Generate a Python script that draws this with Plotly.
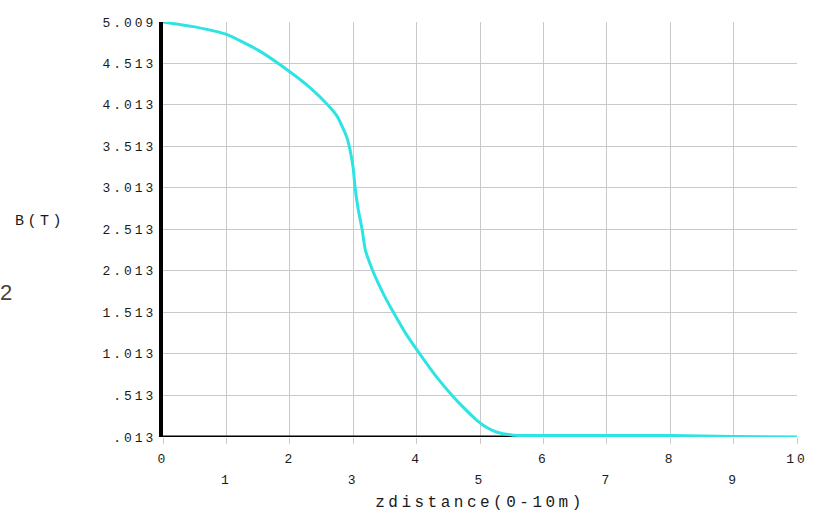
import plotly.graph_objects as go

# Curve B(T) versus z distance
z_vals = [0, 0.5, 1, 1.5, 2, 2.3, 2.6, 2.75, 2.9, 2.95, 3.0, 3.03, 3.08, 3.14, 3.19,
          3.30, 3.38, 3.50, 3.63, 3.82, 4.05, 4.32, 4.56, 4.75, 4.95, 5.1, 5.27, 5.52,
          6, 7, 8, 9, 10]
b_vals = [5.009, 4.95, 4.86, 4.67, 4.41, 4.23, 4.01, 3.87, 3.62, 3.47, 3.25, 3.013,
          2.75, 2.513, 2.27, 2.03, 1.89, 1.70, 1.52, 1.27, 1.013, 0.73, 0.513, 0.36,
          0.214, 0.13, 0.07, 0.035, 0.032, 0.032, 0.03, 0.018, 0.013]

# Black baseline segment drawn by the plotting program (0 to 8 m)
base_x = [0, 8]
base_y = [0.013, 0.013]

y_tickvals = [0.013, 0.513, 1.013, 1.513, 2.013, 2.513, 3.013, 3.513, 4.013, 4.513, 5.009]
y_ticktext = [".013", ".513", "1.013", "1.513", "2.013", "2.513", "3.013", "3.513",
              "4.013", "4.513", "5.009"]
x_even = [0, 2, 4, 6, 8, 10]
x_odd = [1, 3, 5, 7, 9]

MONO = "Liberation Mono, Courier New, monospace"
LS = "letter-spacing:3px"


def sp(t, ls=LS):
    return f'<span style="{ls}">{t}</span>'


fig = go.Figure()
fig.add_trace(go.Scatter(x=base_x, y=base_y, mode="lines",
                         line=dict(color="black", width=3), hoverinfo="skip",
                         showlegend=False))
fig.add_trace(go.Scatter(x=z_vals, y=b_vals, mode="lines",
                         line=dict(color="#2ee3e3", width=3, shape="spline", smoothing=0.5),
                         showlegend=False))
# invisible trace for secondary x axis (odd tick labels row)
fig.add_trace(go.Scatter(x=[0, 10], y=[None, None], xaxis="x2", mode="lines",
                         showlegend=False, hoverinfo="skip"))

grid = "#c9c9c9"
TICKFONT = dict(family=MONO, size=13, color="#1a1a1a")
fig.update_layout(
    width=817, height=514,
    margin=dict(l=163, r=20, t=22, b=77, autoexpand=False),
    paper_bgcolor="white", plot_bgcolor="white",
    font=dict(family=MONO, size=13, color="#1a1a1a"),
    xaxis=dict(range=[0, 10], tickvals=x_even, ticktext=[sp(v) for v in x_even],
               showgrid=True, gridcolor=grid, gridwidth=1, zeroline=False,
               showline=False, ticks="outside", ticklen=6, tickcolor=grid,
               ticklabelstandoff=3, tickfont=TICKFONT, automargin=False,
               title=dict(text=sp("zdistance(0-10m)", "letter-spacing:3.5px"),
                          font=dict(family=MONO, size=16, color="#1a1a1a"), standoff=30)),
    xaxis2=dict(range=[0, 10], overlaying="x", side="bottom", anchor="y",
                tickvals=x_odd, ticktext=[sp(v) for v in x_odd],
                showgrid=True, gridcolor=grid, zeroline=False, showline=False,
                ticks="outside", ticklen=6, tickcolor=grid, automargin=False,
                ticklabelstandoff=24, tickfont=TICKFONT),
    yaxis=dict(range=[0.013, 5.009], tickvals=y_tickvals, ticktext=[sp(t) for t in y_ticktext],
               showgrid=True, gridcolor=grid, gridwidth=1, zeroline=False,
               showline=True, linecolor="black", linewidth=4, ticks="", automargin=False,
               ticklabelstandoff=0, tickfont=TICKFONT),
    annotations=[
        dict(text=sp("B(T)", "letter-spacing:3.5px"), xref="paper", yref="paper",
             x=-0.194, y=0.52, showarrow=False, xanchor="center", yanchor="middle",
             font=dict(family=MONO, size=15, color="#1a1a1a")),
        dict(text="2", xref="paper", yref="paper", x=-0.248, y=0.347, showarrow=False,
             xanchor="center", yanchor="middle",
             font=dict(family="Liberation Sans, Arial, sans-serif", size=22, color="#444")),
    ],
)

fig.write_html("out.html")
